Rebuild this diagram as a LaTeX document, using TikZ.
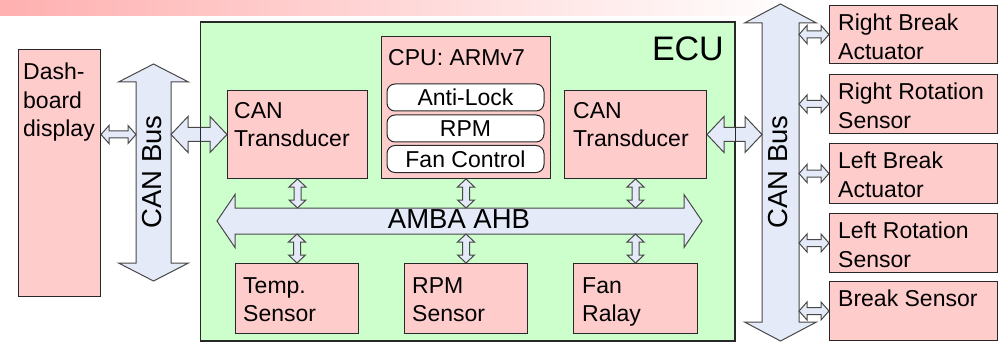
\documentclass[tikz,border=0pt]{standalone}
\usepackage{fontspec}
\setmainfont{Liberation Sans}
\usetikzlibrary{calc}

\definecolor{boxpink}{RGB}{255,204,204}
\definecolor{ecugreen}{RGB}{204,255,204}
\definecolor{busblue}{RGB}{228,234,247}
\definecolor{barpink}{RGB}{255,176,176}
\definecolor{edgegray}{RGB}{40,40,40}

% double headed block arrow: from, to, shaft half width, head half width, head length
\newcommand{\dblarrow}[5]{%
  \draw[bus] (#1) -- ($(#1)!#5!(#2)!#4!90:(#2)$) -- ($(#1)!#5!(#2)!#3!90:(#2)$)
    -- ($(#2)!#5!(#1)!#3!-90:(#1)$) -- ($(#2)!#5!(#1)!#4!-90:(#1)$) -- (#2)
    -- ($(#2)!#5!(#1)!#4!90:(#1)$) -- ($(#2)!#5!(#1)!#3!90:(#1)$)
    -- ($(#1)!#5!(#2)!#3!-90:(#2)$) -- ($(#1)!#5!(#2)!#4!-90:(#2)$) -- cycle;}

\begin{document}
\begin{tikzpicture}[x=1pt, y=-1pt,
    font=\fontsize{23}{28.5}\selectfont,
    blk/.style={draw=edgegray, line width=1pt, fill=boxpink, anchor=north west, inner sep=0pt},
    lbl/.style={anchor=north west, align=left, inner sep=0pt},
    func/.style={draw=edgegray, line width=1pt, fill=white, rounded corners=8pt,
      minimum width=157, minimum height=27, inner sep=0pt},
    bus/.style={draw=edgegray!85, line width=1pt, fill=busblue, line join=miter},
    buslbl/.style={font=\fontsize{27.5}{30}\selectfont, inner sep=0pt}]
  \useasboundingbox (0,0) rectangle (1004,342);

  % Title bar
  \shade[left color=barpink, right color=white, draw=none] (0,0) rectangle (800,16);

  % ECU
  \node[blk, fill=ecugreen, minimum width=534, minimum height=318] (ecu) at (200,22) {};
  \node[font=\fontsize{34}{34}\selectfont, anchor=north east, inner sep=0pt] (ecu-t)
    at ([shift={(-11,15)}]ecu.north east) {ECU};

  % Dashboard
  \node[blk, minimum width=82, minimum height=247] (dash) at (18,49) {};
  \node[lbl] (dash-t) at ([shift={(5,14)}]dash.north west) {Dash-\\board\\display};

  % Boxes inside the ECU
  \node[blk, minimum width=140, minimum height=88] (can1) at (227,90) {};
  \node[lbl] (can1-t) at ([shift={(7,12)}]can1.north west) {CAN\\Transducer};
  \node[blk, minimum width=169, minimum height=142] (cpu) at (381,36) {};
  \node[lbl] (cpu-t) at ([shift={(7,13)}]cpu.north west) {CPU: ARMv7};
  \node[func] (antilock) at (465.5,97.5) {Anti-Lock};
  \node[func] (rpmfn) at (465.5,128.5) {RPM};
  \node[func] (fanfn) at (465.5,159) {Fan Control};
  \node[blk, minimum width=142, minimum height=88] (can2) at (564,90) {};
  \node[lbl] (can2-t) at ([shift={(9,12)}]can2.north west) {CAN\\Transducer};

  \node[blk, minimum width=123, minimum height=70] (temp) at (235,263) {};
  \node[lbl] (temp-t) at ([shift={(8,14)}]temp.north west) {Temp.\\Sensor};
  \node[blk, minimum width=123, minimum height=70] (rpm) at (404,263) {};
  \node[lbl] (rpm-t) at ([shift={(8,14)}]rpm.north west) {RPM\\Sensor};
  \node[blk, minimum width=124, minimum height=70] (fan) at (573,263) {};
  \node[lbl] (fan-t) at ([shift={(9,14)}]fan.north west) {Fan\\Ralay};

  % Wheel side boxes
  \node[blk, minimum width=168, minimum height=58] (rbrk) at (829,5) {};
  \node[lbl] (rbrk-t) at ([shift={(9,9)}]rbrk.north west) {Right Break\\Actuator};
  \node[blk, minimum width=168, minimum height=59] (rrot) at (829,74) {};
  \node[lbl] (rrot-t) at ([shift={(9,9)}]rrot.north west) {Right Rotation\\Sensor};
  \node[blk, minimum width=168, minimum height=60] (lbrk) at (829,143) {};
  \node[lbl] (lbrk-t) at ([shift={(9,9)}]lbrk.north west) {Left Break\\Actuator};
  \node[blk, minimum width=168, minimum height=59] (lrot) at (829,213) {};
  \node[lbl] (lrot-t) at ([shift={(9,9)}]lrot.north west) {Left Rotation\\Sensor};
  \node[blk, minimum width=168, minimum height=59] (bsens) at (829,281) {};
  \node[lbl] (bsens-t) at ([shift={(9,9)}]bsens.north west) {Break Sensor};

  % Bus ends and shaft edges
  \coordinate (lbus-n) at (153.5,64);
  \coordinate (lbus-s) at (153.5,281);
  \coordinate (lbus-w) at (136,172);
  \coordinate (lbus-e) at (171,172);
  \coordinate (rbus-n) at (780.5,4);
  \coordinate (rbus-s) at (780.5,341);
  \coordinate (rbus-w) at (762,172);
  \coordinate (rbus-e) at (799,172);
  \coordinate (amba-w) at (217,221);
  \coordinate (amba-e) at (702,221);
  \coordinate (amba-n) at (460,208);
  \coordinate (amba-s) at (460,234);

  % Buses
  \dblarrow{lbus-n}{lbus-s}{17.5pt}{35pt}{18pt}
  \node[buslbl, rotate=90] (lbus) at (152,172) {CAN Bus};
  \dblarrow{rbus-n}{rbus-s}{18.5pt}{36pt}{19pt}
  \node[buslbl, rotate=90] (rbus) at (778,172) {CAN Bus};
  \dblarrow{amba-w}{amba-e}{13pt}{26.5pt}{18pt}
  \node[buslbl] (amba) at (459,219) {AMBA AHB};

  % Links to the CAN buses
  \dblarrow{dash.east |- can1.west}{lbus-w |- can1.west}{3.5pt}{9pt}{8pt}
  \dblarrow{lbus-e |- can1.west}{can1.west}{7pt}{18pt}{17pt}
  \dblarrow{can2.east}{rbus-w |- can2.east}{7pt}{18pt}{17pt}
  \dblarrow{rbus-e |- rbrk.west}{rbrk.west}{3.5pt}{9pt}{8pt}
  \dblarrow{rbus-e |- rrot.west}{rrot.west}{3.5pt}{9pt}{8pt}
  \dblarrow{rbus-e |- lbrk.west}{lbrk.west}{3.5pt}{9pt}{8pt}
  \dblarrow{rbus-e |- lrot.west}{lrot.west}{3.5pt}{9pt}{8pt}
  \dblarrow{rbus-e |- bsens.west}{bsens.west}{3.5pt}{9pt}{8pt}

  % Links to the AMBA bus
  \dblarrow{can1.south}{can1.south |- amba-n}{3.5pt}{8.5pt}{8pt}
  \dblarrow{cpu.south}{cpu.south |- amba-n}{3.5pt}{8.5pt}{8pt}
  \dblarrow{can2.south}{can2.south |- amba-n}{3.5pt}{8.5pt}{8pt}
  \dblarrow{temp.north |- amba-s}{temp.north}{3.5pt}{8.5pt}{8pt}
  \dblarrow{rpm.north |- amba-s}{rpm.north}{3.5pt}{8.5pt}{8pt}
  \dblarrow{fan.north |- amba-s}{fan.north}{3.5pt}{8.5pt}{8pt}

  % ECU edge over the links
  \draw[draw=edgegray, line width=1pt] (ecu.north west) rectangle (ecu.south east);
\end{tikzpicture}
\end{document}
